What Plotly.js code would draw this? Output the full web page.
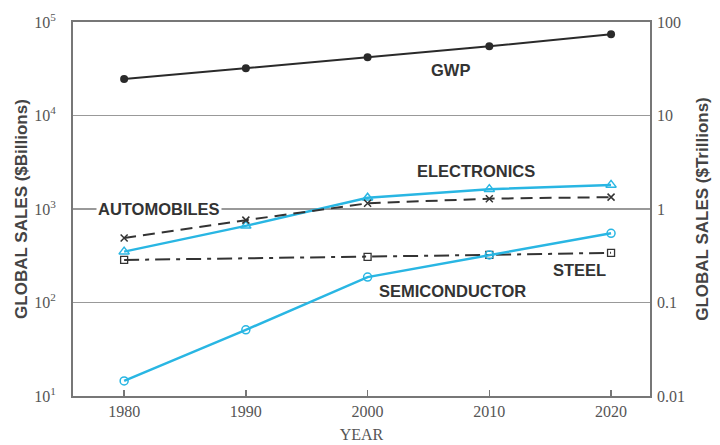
<!DOCTYPE html>
<html><head><meta charset="utf-8">
<script src="https://cdn.plot.ly/plotly-3.0.1.min.js"></script>
<style>html,body{margin:0;padding:0;background:#fff}#c{width:720px;height:445px}</style>
</head><body><div id="c"></div>
<script>
const years = [1980, 1990, 2000, 2010, 2020];
const gwp = [24500, 32000, 42000, 55000, 74000];
const electronics = [350, 660, 1320, 1630, 1810];
const automobiles = [490, 760, 1150, 1290, 1340];
const steelYears = [1980, 2000, 2010, 2020];
const steel = [285, 307, 323, 340];
const semiconductor = [14.5, 51, 187, 323, 550];
const leftTickVals = [10, 100, 1000, 10000, 100000];
const leftTickText = ['10<sup>1</sup>', '10<sup>2</sup>', '10<sup>3</sup>', '10<sup>4</sup>', '10<sup>5</sup>'];
const rightTickVals = [0.01, 0.1, 1, 10, 100];
const rightTickText = ['0.01', '0.1', '1', '10', '100'];
const labels = ['GWP', 'ELECTRONICS', 'AUTOMOBILES', 'STEEL', 'SEMICONDUCTOR'];

const cyan = '#29b6e3';
const dark = '#2a2a2a';
const traces = [
  {x: years, y: gwp, mode: 'lines+markers', line: {color: dark, width: 2}, marker: {color: dark, size: 8}},
  {x: years, y: electronics, mode: 'lines+markers', line: {color: cyan, width: 2.5}, marker: {symbol: 'triangle-up-open', color: cyan, size: 9, line: {width: 1.5}}},
  {x: years, y: automobiles, mode: 'lines+markers', line: {color: '#333', width: 2, dash: '12px,7px'}, marker: {symbol: 'x-thin-open', color: '#333', size: 7, line: {width: 1.5, color: '#333'}}},
  {x: steelYears, y: steel, mode: 'lines+markers', line: {color: '#333', width: 2, dash: '15px,6px,4px,6px'}, marker: {symbol: 'square-open', color: '#333', size: 7, line: {width: 1.3}}},
  {x: years, y: semiconductor, mode: 'lines+markers', line: {color: cyan, width: 2.5}, marker: {symbol: 'circle-open', color: cyan, size: 8, line: {width: 1.5}}},
  {x: years, y: gwp.map(v => v / 1000), yaxis: 'y2', mode: 'lines', opacity: 0, hoverinfo: 'skip', line: {width: 0}}
];

const labelPos = [[2006.8, 4.49], [2008.9, 3.41], [1982.9, 3.0], [2017.4, 2.35], [2007.0, 2.12]];
const annotations = labels.map((t, i) => ({
  x: labelPos[i][0], y: labelPos[i][1], xref: 'x', yref: 'y', text: t, showarrow: false,
  font: {family: 'Liberation Sans, Arial, sans-serif', size: 16.5, color: '#333', weight: 'bold'},
  bgcolor: i === 2 ? '#fff' : 'rgba(0,0,0,0)', borderpad: 1
}));

const layout = {
  width: 720, height: 445,
  margin: {l: 73, r: 70, t: 22, b: 49},
  paper_bgcolor: '#fff', plot_bgcolor: '#fff',
  showlegend: false,
  font: {family: 'Liberation Serif, Times New Roman, serif', color: '#555'},
  xaxis: {
    range: [1975.8, 2023.2], tickvals: years, ticktext: years.map(String),
    showgrid: false, zeroline: false, showline: true, linecolor: '#777', linewidth: 2, mirror: true,
    ticks: 'inside', ticklen: 6, tickcolor: '#777', tickwidth: 1.5,
    tickfont: {family: 'Liberation Serif, serif', size: 16, color: '#555'},
    title: {text: 'YEAR', font: {family: 'Liberation Serif, serif', size: 16, color: '#555'}, standoff: 10}
  },
  yaxis: {
    type: 'log', range: [1, 5], tickvals: leftTickVals, ticktext: leftTickText,
    showgrid: true, gridcolor: '#999', gridwidth: 1.5, zeroline: false,
    showline: true, linecolor: '#777', linewidth: 2, mirror: true, ticks: '', ticklabelstandoff: 12,
    tickfont: {family: 'Liberation Serif, serif', size: 16, color: '#555'},
    title: {text: 'GLOBAL SALES ($Billions)', font: {family: 'Liberation Sans, Arial, sans-serif', size: 17, color: '#444', weight: 'bold'}, standoff: 2}
  },
  yaxis2: {
    type: 'log', range: [-2, 2], overlaying: 'y', side: 'right', tickvals: rightTickVals, ticktext: rightTickText,
    showgrid: false, zeroline: false, showline: false, ticks: '', ticklabelstandoff: 6,
    tickfont: {family: 'Liberation Serif, serif', size: 16, color: '#555'},
    title: {text: 'GLOBAL SALES ($Trillions)', font: {family: 'Liberation Sans, Arial, sans-serif', size: 17, color: '#444', weight: 'bold'}, standoff: 12}
  },
  annotations: annotations
};
Plotly.newPlot('c', traces, layout, {displayModeBar: false, staticPlot: true});
</script></body></html>
